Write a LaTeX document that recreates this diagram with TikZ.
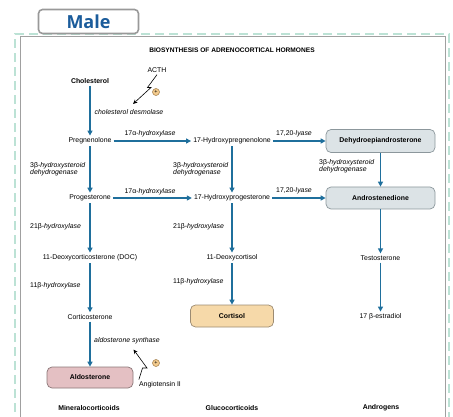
\documentclass[tikz,border=0pt]{standalone}
\usepackage{fontspec}
\setmainfont{Liberation Sans}
\newfontfamily\tabfont{Open Sans}
\usetikzlibrary{arrows.meta}
\definecolor{flowblue}{HTML}{1F6F9C}
\definecolor{framegreen}{HTML}{BCE2D5}
\definecolor{framegray}{HTML}{A0A0A0}
\definecolor{tabblue}{HTML}{1B5C9B}
\definecolor{andfill}{HTML}{DCE3E6}
\definecolor{anddraw}{HTML}{8C979C}
\definecolor{glufill}{HTML}{F6D9A9}
\definecolor{gludraw}{HTML}{9C8B72}
\definecolor{minfill}{HTML}{E4C0C3}
\definecolor{mindraw}{HTML}{8B7778}
\definecolor{plusfill}{HTML}{F3CB8E}
\definecolor{plusdraw}{HTML}{9E7844}
\newcommand{\lbl}{\fontsize{6.9}{7.3}\selectfont}
\tikzset{
  txt/.style={font=\lbl, inner sep=2pt, align=center},
  bold/.style={txt, font=\lbl\bfseries},
  enz/.style={txt, font=\lbl\itshape},
  enzl/.style={txt, font=\lbl\itshape, anchor=west, align=left},
  hormone/.style={font=\lbl\bfseries, rounded corners=5pt, line width=0.7pt, inner sep=2pt},
  andbox/.style={hormone, fill=andfill, draw=anddraw, minimum width=109pt, minimum height=23pt},
  glubox/.style={hormone, fill=glufill, draw=gludraw, minimum width=83pt, minimum height=22pt},
  minbox/.style={hormone, fill=minfill, draw=mindraw, minimum width=86pt, minimum height=21pt},
  flow/.style={draw=flowblue, line width=1.3pt, -{Triangle[length=5pt,width=5pt]}},
  stim/.style={draw=black, line width=0.6pt, -{Stealth[length=4.5pt,width=4pt]}},
  plus/.style={circle, fill=plusfill, draw=plusdraw, line width=0.5pt, minimum size=7pt, inner sep=0pt, font=\fontsize{5.5}{5.5}\selectfont},
  tab/.style={rounded corners=4pt, draw=gray!80, line width=1.6pt, fill=white, minimum width=100pt, minimum height=24pt, inner sep=0pt, text=tabblue, font=\tabfont\bfseries\fontsize{18}{18}\selectfont}
}
\begin{document}
\begin{tikzpicture}[x=1pt,y=-1pt]
\useasboundingbox (0,0) rectangle (453,417);

% outer dashed frame and inner panel edge
\draw[framegreen, line width=2pt, dash pattern=on 9pt off 5pt] (15,440) -- (15,34) -- (449,34) -- (449,440);
\draw[framegray, line width=0.9pt] (20,440) -- (20,36.5) -- (445,36.5) -- (445,440);

% tab
\node[tab] (male) at (88.5,21.5) {Male};

% title
\node[bold, font=\fontsize{6.6}{7}\selectfont\bfseries] (title) at (232,50) {BIOSYNTHESIS OF ADRENOCORTICAL HORMONES};

% compounds
\node[txt] (acth) at (157,70) {ACTH};
\node[bold] (chol) at (90,81) {Cholesterol};
\node[txt] (preg) at (90,141) {Pregnenolone};
\node[txt] (hpreg) at (232,141) {17-Hydroxypregnenolone};
\node[andbox] (dhea) at (380.5,141) {Dehydroepiandrosterone};
\node[txt] (prog) at (90,198) {Progesterone};
\node[txt] (hprog) at (232,198) {17-Hydroxyprogesterone};
\node[andbox, minimum height=22pt] (andro) at (380.5,198) {Androstenedione};
\node[txt] (doc) at (90,258) {11-Deoxycorticosterone (DOC)};
\node[txt] (doxc) at (232,258) {11-Deoxycortisol};
\node[txt] (testo) at (380.5,258) {Testosterone};
\node[txt] (cortico) at (90,317) {Corticosterone};
\node[glubox] (cort) at (232,316) {Cortisol};
\node[txt] (estr) at (380.5,317) {17 β-estradiol};
\node[minbox] (aldo) at (90,377.5) {Aldosterone};
\node[txt] (angio) at (160,385) {Angiotensin II};

% enzymes
\node[enz] (desm) at (129,112) {cholesterol desmolase};
\node[enz] (h17a) at (150,134) {\upshape 17α-\itshape hydroxylase};
\node[enz] (h17b) at (150,192) {\upshape 17α-\itshape hydroxylase};
\node[enz] (ly1) at (294,134) {\upshape 17,20-\itshape lyase};
\node[enz] (ly2) at (294,191) {\upshape 17,20-\itshape lyase};
\node[enzl] (hsd1) at (28,169) {{\upshape 3β-}hydroxysteroid\\dehydrogenase};
\node[enzl] (hsd2) at (171,169) {{\upshape 3β-}hydroxysteroid\\dehydrogenase};
\node[enzl] (hsd3) at (317,166) {{\upshape 3β-}hydroxysteroid\\dehydrogenase};
\node[enzl] (h21a) at (28,227) {\upshape 21β-\itshape hydroxylase};
\node[enzl] (h21b) at (171,227) {\upshape 21β-\itshape hydroxylase};
\node[enzl] (h11a) at (28,286) {\upshape 11β-\itshape hydroxylase};
\node[enzl] (h11b) at (171,282) {\upshape 11β-\itshape hydroxylase};
\node[enz] (alds) at (127,341) {aldosterone synthase};

% column headings
\node[bold] (mineral) at (89,408) {Mineralocorticoids};
\node[bold] (gluco) at (232,408) {Glucocorticoids};
\node[bold] (andr) at (381,408) {Androgens};

% pathway arrows
\draw[flow] (chol) -- (preg);
\draw[flow] (preg) -- (prog);
\draw[flow] (prog) -- (doc);
\draw[flow] (doc) -- (cortico);
\draw[flow] (cortico) -- (aldo);
\draw[flow] (preg) -- (hpreg);
\draw[flow] (prog) -- (hprog);
\draw[flow] (hpreg) -- (dhea);
\draw[flow] (hprog) -- (andro);
\draw[flow] (hpreg) -- (hprog);
\draw[flow] (hprog) -- (doxc);
\draw[flow] (doxc) -- (cort);
\draw[flow] (dhea) -- (andro);
\draw[flow] (andro) -- (testo);
\draw[flow] (testo) -- (estr);

% stimulating signals
\coordinate (acthtip) at (133,104);
\draw[stim] (acth.south) -- (147.5,87.5) -- (151,87.5) -- (acthtip);
\node[plus] (p1) at (156,92) {+};
\coordinate (angtip) at (133.5,349.5);
\draw[stim] (angio.north west) ++(2,0) -- (142.5,368) -- (147,368) -- (angtip);
\node[plus] (p2) at (156,363) {+};
\end{tikzpicture}
\end{document}
